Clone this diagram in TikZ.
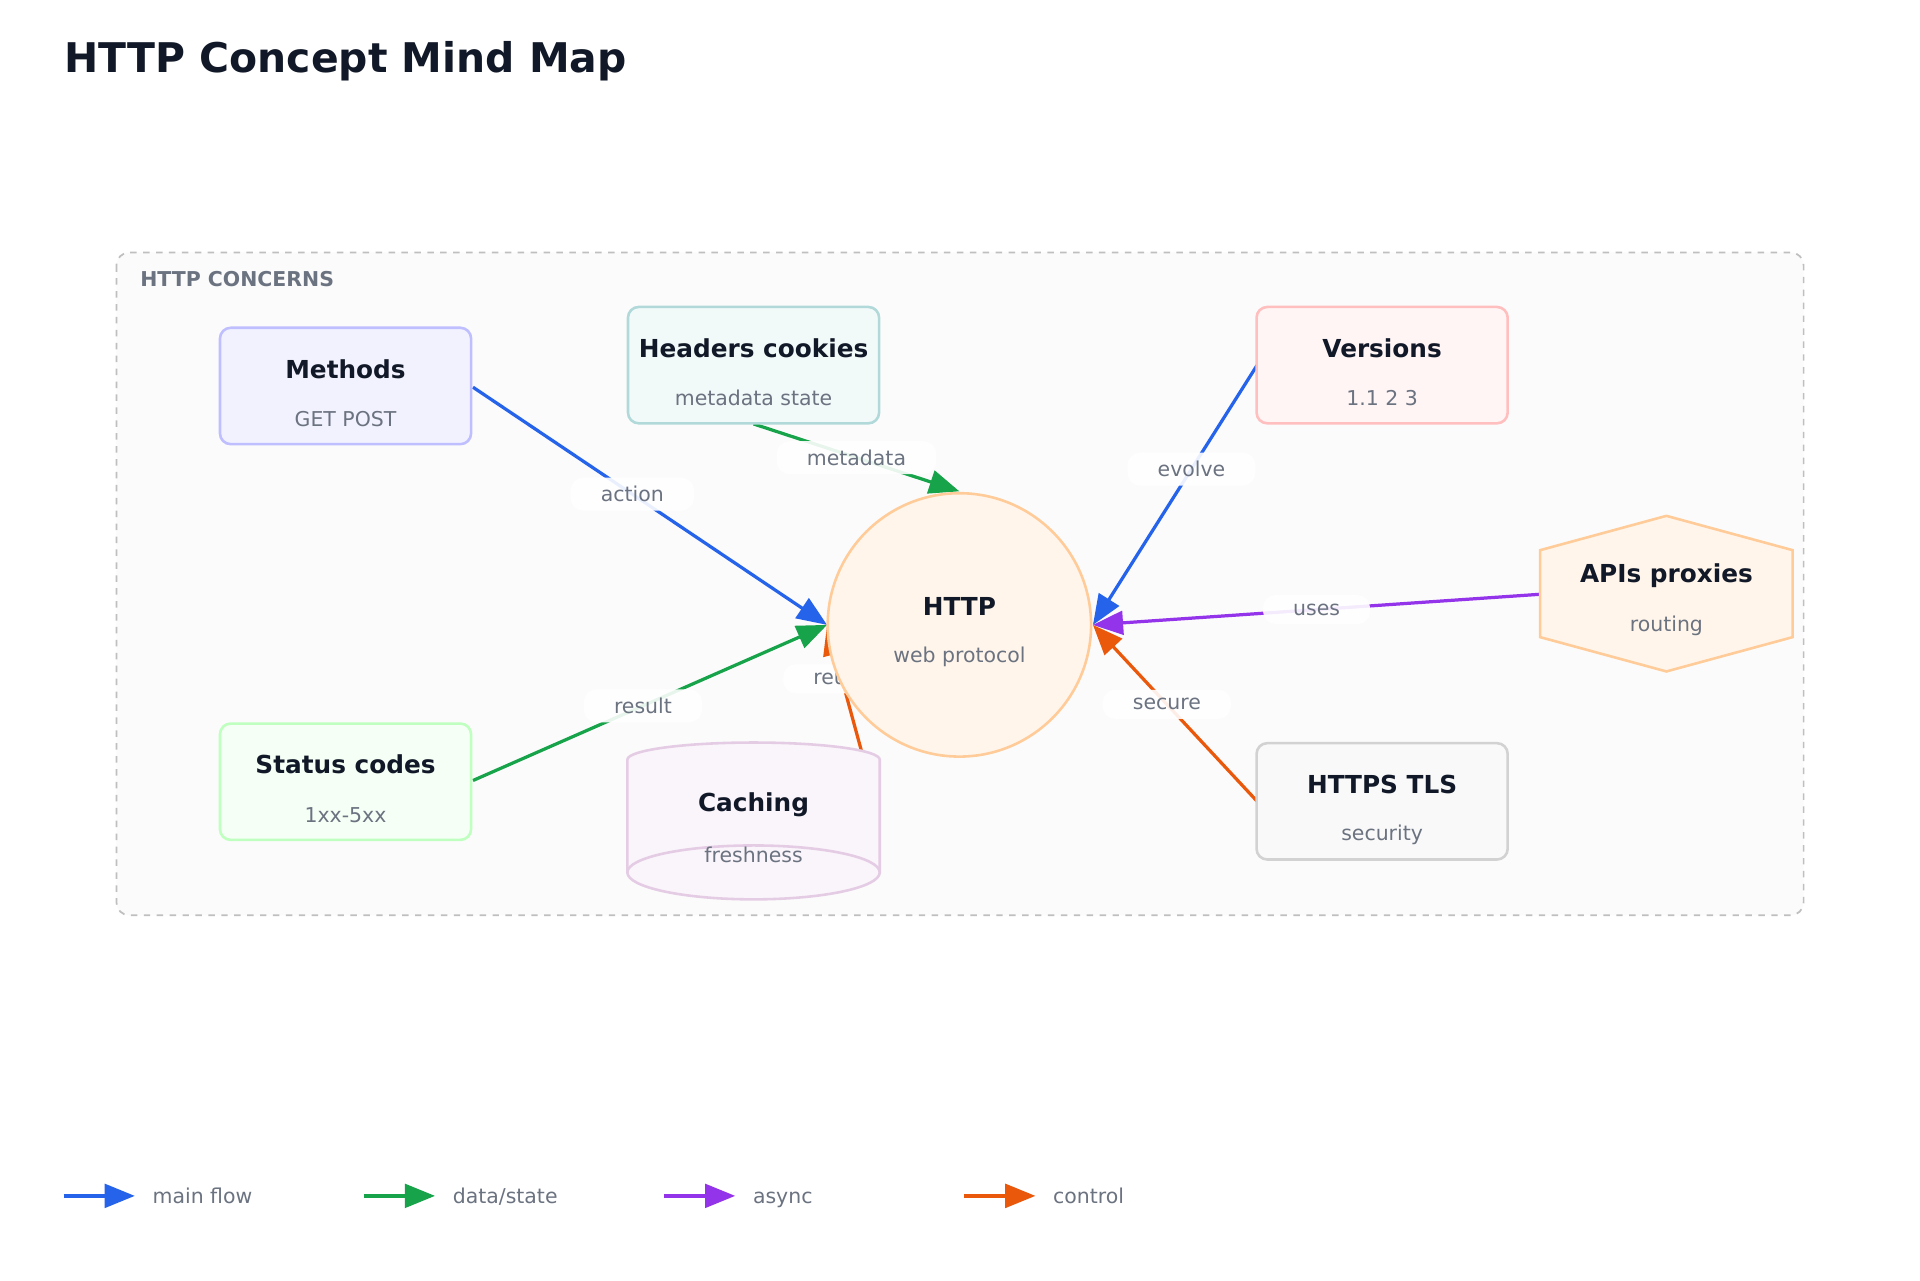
\documentclass[tikz,border=0pt]{standalone}
\usepackage{fontspec}
\setmainfont{DejaVu Sans}
\usetikzlibrary{shapes.geometric,arrows.meta}
\definecolor{ink}{HTML}{111827}
\definecolor{muted}{HTML}{6B7280}
\definecolor{cblue}{HTML}{2563EB}
\definecolor{cgreen}{HTML}{16A34A}
\definecolor{cpurple}{HTML}{9333EA}
\definecolor{corange}{HTML}{EA580C}
\begin{document}
\begin{tikzpicture}[x=0.02cm, y=-0.02cm, thick,
    box/.style={draw, rounded corners=5pt, line width=1.2pt, minimum width=4.1cm, minimum height=1.9cm, align=center},
    title/.style={font=\bfseries\fontsize{11.5}{14}\selectfont, text=ink},
    sub/.style={font=\fontsize{9.5}{12}\selectfont, text=muted},
    lbl/.style={fill=white, fill opacity=0.9, text opacity=1, rounded corners=6pt, text=muted, font=\fontsize{9.5}{12}\selectfont, inner xsep=14pt, inner ysep=4pt},
    flow/.style={line width=1.5pt, -{Triangle[length=14pt, width=11pt]}}]

    \useasboundingbox (0,0) rectangle (1567,1045);
    \fill[white] (0,0) rectangle (1567,1045);
    \node[anchor=west, font=\bfseries\fontsize{19}{22}\selectfont, text=ink] (head) at (46,50) {HTTP Concept Mind Map};

    % group frame
    \draw[gray!50, dashed, fill=gray!3, rounded corners=6pt, line width=0.8pt] (95,206) rectangle (1472,747);
    \node[anchor=west, font=\bfseries\fontsize{9.5}{12}\selectfont, text=muted] (grp) at (108,228) {HTTP CONCERNS};

    % positions of nodes
    \coordinate (pm) at (282,315);
    \coordinate (ph) at (615,298);
    \coordinate (pv) at (1128,298);
    \coordinate (ps) at (282,638);
    \coordinate (pc) at (615,665);
    \coordinate (pt) at (1128,654);
    \coordinate (pa) at (1360,484);

    % connectors first, nodes cover them
    \coordinate (hw) at (675,510);
    \coordinate (he) at (892,510);
    \coordinate (hn) at (783,401);
    \draw[flow, cblue] (386,316) -- node[lbl, pos=0.45] {action} (hw);
    \draw[flow, cgreen] (615,346) -- node[lbl, pos=0.5] {metadata} (hn);
    \draw[flow, cblue] (1026,298) -- node[lbl, pos=0.4] {evolve} (he);
    \draw[flow, cgreen] (386,637) -- node[lbl, pos=0.48] {result} (hw);
    \draw[flow, corange] (705,620) -- node[lbl, pos=0.6] {reuse} (hw);
    \draw[flow, cpurple] (1257,485) -- node[lbl, pos=0.5] {uses} (he);
    \draw[flow, corange] (1026,654) -- node[lbl, pos=0.55] {secure} (he);

    % nodes
    \node[draw=orange!40, fill=orange!8, circle, line width=1.2pt, minimum size=4.3cm] (http) at (783,510) {};
    \node[title] (httpt) at (783,495) {HTTP};
    \node[sub] (https) at (783,536) {web protocol};

    \node[box, draw=blue!25, fill=blue!5] (methods) at (pm) {};
    \node[title] at (282,301) {Methods};
    \node[sub] at (282,342) {GET POST};

    \node[box, draw=teal!30, fill=teal!5] (headers) at (ph) {};
    \node[title] at (615,284) {Headers cookies};
    \node[sub] at (615,325) {metadata state};

    \node[box, draw=red!25, fill=red!4] (versions) at (pv) {};
    \node[title] at (1128,284) {Versions};
    \node[sub] at (1128,325) {1.1 2 3};

    \node[box, draw=green!25, fill=green!4] (status) at (ps) {};
    \node[title] at (282,624) {Status codes};
    \node[sub] at (282,665) {1xx-5xx};

    \node[box, draw=gray!35, fill=gray!5] (tls) at (pt) {};
    \node[title] at (1128,640) {HTTPS TLS};
    \node[sub] at (1128,681) {security};

    % caching cylinder
    \draw[violet!20, fill=violet!4, line width=1.2pt] (512,620) -- (512,712) arc[start angle=180, end angle=360, x radius=103, y radius=-22] -- (718,620) arc[start angle=0, end angle=180, x radius=103, y radius=-14] -- cycle;
    \draw[violet!20, line width=1.2pt] (512,712) arc[start angle=180, end angle=0, x radius=103, y radius=-22];
    \node[title] (caching) at (615,657) {Caching};
    \node[sub] at (615,698) {freshness};

    % apis hexagon
    \draw[orange!40, fill=orange!8, line width=1.2pt] (1360,421) -- (1463,449) -- (1463,520) -- (1360,548) -- (1257,520) -- (1257,449) -- cycle;
    \node[title] (apis) at (1360,470) {APIs proxies};
    \node[sub] at (1360,511) {routing};

    % legend
    \foreach \x/\c/\t in {52/cblue/main flow, 297/cgreen/data\slash state, 542/cpurple/async, 787/corange/control} {
        \coordinate (l\x) at (\x,976);
        \draw[flow, \c] (l\x) -- ++(58,0);
        \node[anchor=base west, text=muted, font=\fontsize{9.5}{12}\selectfont] at (\x+66,982) {\t};
    }
\end{tikzpicture}
\end{document}
